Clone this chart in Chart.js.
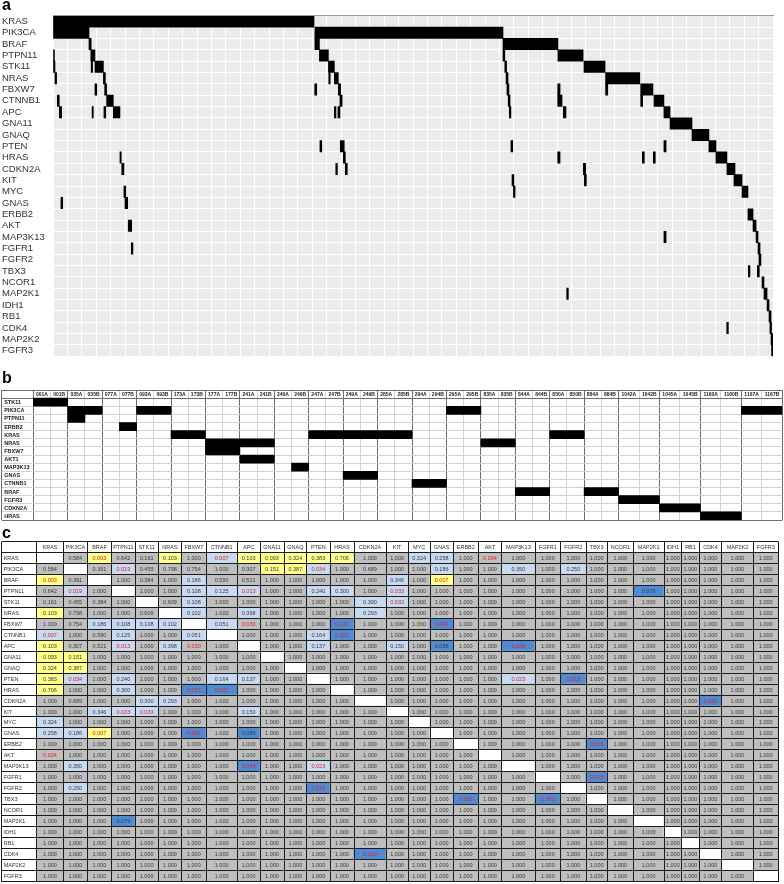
<!DOCTYPE html>
<html><head><meta charset="utf-8">
<script src="https://cdn.jsdelivr.net/npm/chart.js@4.4.1/dist/chart.umd.min.js"></script>
<style>
html,body{margin:0;padding:0;background:#fff;}
#wrap{position:relative;width:784px;height:884px;overflow:hidden;background:#fff;}
canvas{position:absolute;left:0;}
.pl{position:absolute;font:bold 16px "Liberation Sans",Arial,sans-serif;line-height:16px;color:#000;z-index:5;}
</style></head><body>
<div id="wrap">
<canvas id="ca" width="784" height="362" style="top:0px"></canvas>
<canvas id="cb" width="784" height="140" style="top:384px"></canvas>
<canvas id="cc" width="784" height="349" style="top:535px"></canvas>
<div class="pl" style="left:2px;top:-3px">a</div>
<div class="pl" style="left:2px;top:370px">b</div>
<div class="pl" style="left:2px;top:525px">c</div>
</div>
<script>
// ---------------- DATA: panel a (oncoprint) ----------------
const genesA = ['KRAS','PIK3CA','BRAF','PTPN11','STK11','NRAS','FBXW7','CTNNB1','APC','GNA11','GNAQ','PTEN','HRAS','CDKN2A','KIT','MYC','GNAS','ERBB2','AKT','MAP3K13','FGFR1','FGFR2','TBX3','NCOR1','MAP2K1','IDH1','RB1','CDK4','MAP2K2','FGFR3'];
const sampleCountA = 400;
const gridStepA = 8;
// [gene, first sample, end sample]
const mutationsA = [
['KRAS',0,145],
['PIK3CA',0,20],['PIK3CA',145.5,250],
['BRAF',20,21.2],['BRAF',145.5,148],['BRAF',250,280.5],
['PTPN11',0,0.8],['PTPN11',21,23.3],['PTPN11',148,153],['PTPN11',250,251],['PTPN11',280.5,294.5],
['STK11',0.3,1.1],['STK11',21.2,22],['STK11',23.3,28],['STK11',153,156.3],['STK11',251,252],['STK11',295,306.7],
['NRAS',1.1,2],['NRAS',28,29.1],['NRAS',153.2,154],['NRAS',156.3,158.5],['NRAS',251.7,252.8],['NRAS',307,326],
['FBXW7',23.3,24.3],['FBXW7',28.7,29.8],['FBXW7',145.4,146.5],['FBXW7',158.5,159.8],['FBXW7',252.2,253.3],['FBXW7',280.4,281.7],['FBXW7',307,308.2],['FBXW7',326.5,333.3],
['CTNNB1',2.4,3.5],['CTNNB1',29.8,33.5],['CTNNB1',159.4,160.6],['CTNNB1',252.9,253.9],['CTNNB1',280.4,282.8],['CTNNB1',326.5,327.6],['CTNNB1',333.9,339.4],
['APC',3.5,4.8],['APC',21.7,22.4],['APC',28.3,29.3],['APC',33.5,37.2],['APC',156.3,157.2],['APC',158.3,159.4],['APC',253.5,254.4],['APC',283.5,285],['APC',339.4,342.8],
['GNA11',342.8,355],
['GNAQ',355,364.4],
['PTEN',148.3,149.3],['PTEN',159.6,161.8],['PTEN',254.4,255.4],['PTEN',339.4,340.6],['PTEN',364.4,368.3],
['HRAS',37.2,37.9],['HRAS',161.3,162.4],['HRAS',280.4,281.7],['HRAS',327.4,328.5],['HRAS',333.5,334.6],['HRAS',368.3,374.4],
['CDKN2A',38.2,39.4],['CDKN2A',157.1,158],['CDKN2A',162.4,163.5],['CDKN2A',294.6,295.9],['CDKN2A',374.4,378.9],
['KIT',255,256],['KIT',295.2,296.3],['KIT',378.3,382.8],
['MYC',39.4,40.4],['MYC',255.8,256.7],['MYC',382.8,386.1],
['GNAS',4.4,5.4],['GNAS',40,41.5],
['ERBB2',386.1,388.9],
['AKT',41.8,43.7],['AKT',388.9,390.6],
['MAP3K13',339.4,340.6],['MAP3K13',390.6,391.7],
['FGFR1',43.5,44.4],['FGFR1',391.7,392.8],
['FGFR2',392.2,393.3],
['TBX3',386.3,387.2],['TBX3',391.3,392.4],
['NCOR1',393.9,395],
['MAP2K1',285.4,286.3],['MAP2K1',395,396.7],
['IDH1',396.7,397.8],
['RB1',397.8,398.9],
['CDK4',374.3,375.2],['CDK4',398.3,399.2],
['MAP2K2',398.9,400],
['FGFR3',399.2,400]
];

// ---------------- DATA: panel b ----------------
const genesB = ['STK11','PIK3CA','PTPN11','ERBB2','KRAS','NRAS','FBXW7','AKT1','MAP3K13','GNAS','CTNNB1','BRAF','FGFR3','CDKN2A','HRAS'];
const patientsB = ['001','035','077','093','173','177','241','246','247','249','285','294','295','835','844','850','884','1042','1045','1160','1167'];
const samplesB = patientsB.flatMap(p => [p + 'A', p + 'B']);
// [gene, first sample, last sample]
const mutationsB = [
['STK11','001A','001B'],
['PIK3CA','035A','035B'],['PIK3CA','093A','093B'],['PIK3CA','295A','295B'],['PIK3CA','1167A','1167B'],
['PTPN11','035A','035A'],
['ERBB2','077B','077B'],
['KRAS','173A','173B'],['KRAS','247A','285B'],['KRAS','850A','850B'],
['NRAS','177A','241B'],['NRAS','835A','835B'],
['FBXW7','177A','177B'],
['AKT1','241A','241B'],
['MAP3K13','246B','246B'],
['GNAS','249A','249B'],
['CTNNB1','294A','294B'],
['BRAF','844A','844B'],['BRAF','884A','884B'],
['FGFR3','1042A','1042B'],
['CDKN2A','1045A','1045B'],
['HRAS','1160A','1160B']
];

// ---------------- DATA: panel c (pairwise p-values) ----------------
const genesC = ['KRAS','PIK3CA','BRAF','PTPN11','STK11','NRAS','FBXW7','CTNNB1','APC','GNA11','GNAQ','PTEN','HRAS','CDKN2A','KIT','MYC','GNAS','ERBB2','AKT','MAP3K13','FGFR1','FGFR2','TBX3','NCOR1','MAP2K1','IDH1','RB1','CDK4','MAP2K2','FGFR3'];
const defaultP = 1.000;
// [gene, gene, p, highlight: G grey, Y yellow, L light blue, D blue]
const pairsC = [
['KRAS','PIK3CA',0.584,'G'],['KRAS','BRAF',0.003,'Y'],['KRAS','PTPN11',0.642,'G'],['KRAS','STK11',0.161,'G'],['KRAS','NRAS',0.103,'Y'],
['KRAS','CTNNB1',0.007,'L'],['KRAS','APC',0.103,'Y'],['KRAS','GNA11',0.093,'Y'],['KRAS','GNAQ',0.324,'Y'],['KRAS','PTEN',0.383,'Y'],
['KRAS','HRAS',0.706,'Y'],['KRAS','MYC',0.324,'L'],['KRAS','GNAS',0.258,'L'],['KRAS','AKT',0.034,'G'],
['PIK3CA','BRAF',0.391,'G'],['PIK3CA','PTPN11',0.019,'L'],['PIK3CA','STK11',0.455,'G'],['PIK3CA','NRAS',0.798,'G'],['PIK3CA','FBXW7',0.754,'G'],
['PIK3CA','APC',0.307,'G'],['PIK3CA','GNA11',0.151,'Y'],['PIK3CA','GNAQ',0.387,'Y'],['PIK3CA','PTEN',0.034,'L'],['PIK3CA','CDKN2A',0.689,'G'],
['PIK3CA','GNAS',0.186,'L'],['PIK3CA','MAP3K13',0.350,'L'],['PIK3CA','FGFR2',0.250,'L'],
['BRAF','STK11',0.384,'G'],['BRAF','FBXW7',0.186,'L'],['BRAF','CTNNB1',0.590,'G'],['BRAF','APC',0.521,'G'],['BRAF','KIT',0.346,'L'],['BRAF','GNAS',0.007,'Y'],
['PTPN11','FBXW7',0.108,'L'],['PTPN11','CTNNB1',0.125,'L'],['PTPN11','APC',0.013,'L'],['PTPN11','PTEN',0.240,'L'],['PTPN11','HRAS',0.300,'L'],
['PTPN11','KIT',0.033,'L'],['PTPN11','MAP2K1',0.079,'D'],
['STK11','NRAS',0.609,'G'],['STK11','FBXW7',0.108,'L'],['STK11','CDKN2A',0.300,'L'],['STK11','KIT',0.033,'L'],
['NRAS','FBXW7',0.102,'L'],['NRAS','APC',0.398,'L'],['NRAS','CDKN2A',0.293,'L'],
['FBXW7','CTNNB1',0.051,'L'],['FBXW7','APC',0.030,'G'],['FBXW7','HRAS',0.017,'D'],['FBXW7','GNAS',0.004,'D'],
['CTNNB1','PTEN',0.164,'L'],['CTNNB1','HRAS',0.021,'D'],
['APC','PTEN',0.137,'L'],['APC','KIT',0.150,'L'],['APC','GNAS',0.085,'D'],['APC','MAP3K13',0.043,'D'],
['PTEN','MAP3K13',0.023,'L'],['PTEN','FGFR2',0.015,'D'],
['CDKN2A','CDK4',0.010,'D'],
['ERBB2','TBX3',0.006,'D'],
['FGFR1','TBX3',0.003,'D']
];

// ---------------- LAYOUT (sizes, not data) ----------------
const layoutB = { labelW: 31.6, narrowW: 17.2, wideW: 20.45, firstWide: 34 };
const colWidthsC = [35, 26.6,24,24.4,23.3,23.3,23.4,24.3,31.3,22.7,24,22.7,23.3,24,32,22.3,21.7,23.3,25,23.4,33.3,25.7,25.3,21.3,26,30.7,17.7,17.6,22.4,31.6,25];

const FONT = '"Liberation Sans", Arial, sans-serif';
const NARROW = '"Liberation Sans Narrow", "Liberation Sans", Arial, sans-serif';
Chart.defaults.font.family = FONT;
Chart.defaults.animation = false;
Chart.defaults.plugins.legend.display = false;
Chart.defaults.plugins.tooltip.enabled = false;

function cumulative(ws) { const e = [0]; ws.forEach(w => e.push(+(e[e.length - 1] + w).toFixed(3))); return e; }

const areaFill = {
  id: 'areaFill',
  beforeDraw(chart, args, opts) {
    if (!opts || !opts.color) return;
    const { ctx, chartArea: a } = chart;
    ctx.save(); ctx.fillStyle = opts.color; ctx.fillRect(a.left, a.top, a.width, a.height); ctx.restore();
  }
};
const cellText = {
  id: 'cellText',
  afterDraw(chart) {
    const ctx = chart.ctx;
    chart.data.datasets.forEach((ds, di) => {
      if (!ds.cellText) return;
      const meta = chart.getDatasetMeta(di);
      meta.data.forEach((el, i) => {
        const t = ds.cellText[i];
        if (!t) return;
        const l = Math.min(el.x, el.base), r = Math.max(el.x, el.base);
        ctx.save();
        ctx.font = ds.cellFont;
        ctx.fillStyle = Array.isArray(ds.cellColor) ? ds.cellColor[i] : ds.cellColor;
        ctx.textBaseline = 'middle';
        if (ds.cellAlign === 'left') { ctx.textAlign = 'left'; ctx.fillText(t, l + (ds.cellPad || 1.5), el.y + 0.5); }
        else { ctx.textAlign = 'center'; ctx.fillText(t, (l + r) / 2, el.y + 0.5); }
        ctx.restore();
      });
    });
  }
};
const barDefaults = { grouped: false, categoryPercentage: 1, barPercentage: 1, borderWidth: 0 };

// ---------------- Chart a ----------------
new Chart(document.getElementById('ca'), {
  type: 'bar',
  data: {
    labels: genesA,
    datasets: [{
      data: mutationsA.map(([g, s, e]) => ({ y: g, x: [s, e] })),
      backgroundColor: '#000'
    }]
  },
  options: {
    responsive: false, indexAxis: 'y',
    datasets: { bar: barDefaults },
    layout: { padding: { left: 2, top: 15.7, right: 11, bottom: 2 } },
    scales: {
      x: { type: 'linear', position: 'top', min: 0, max: sampleCountA,
        ticks: { display: false, stepSize: gridStepA },
        grid: { color: '#ffffff', lineWidth: 1, drawTicks: false },
        border: { display: true, color: '#9a9a9a', width: 1, z: 1 },
        afterFit(s) { s.height = 0; } },
      y: { type: 'category',
        ticks: { crossAlign: 'far', color: '#333', font: { size: 9.5 }, padding: 0, autoSkip: false },
        grid: { color: '#ffffff', lineWidth: 1, drawTicks: false },
        border: { display: false },
        afterFit(s) { s.width = 51; } }
    },
    plugins: { areaFill: { color: '#ebebeb' } }
  },
  plugins: [areaFill]
});

// ---------------- Chart b ----------------
(function () {
  const widths = [layoutB.labelW, ...samplesB.map((s, i) => i < layoutB.firstWide ? layoutB.narrowW : layoutB.wideW)];
  const edges = cumulative(widths);
  const col = s => samplesB.indexOf(s);
  const dark = '#6e6e6e', light = '#d2d2d2';
  new Chart(document.getElementById('cb'), {
    type: 'bar',
    data: {
      labels: ['hdr', ...genesB],
      datasets: [
        { data: mutationsB.map(([g, a, b]) => ({ y: g, x: [edges[col(a) + 1], edges[col(b) + 2]] })), backgroundColor: '#000' },
        { data: samplesB.map((s, i) => ({ y: 'hdr', x: [edges[i + 1], edges[i + 2]] })), backgroundColor: 'rgba(0,0,0,0)',
          cellText: samplesB, cellFont: 'bold 5px ' + FONT, cellColor: '#222' },
        { data: genesB.map(g => ({ y: g, x: [0, edges[1]] })), backgroundColor: 'rgba(0,0,0,0)',
          cellText: genesB, cellFont: 'bold 5.5px ' + FONT, cellColor: '#222', cellAlign: 'left', cellPad: 2 }
      ]
    },
    options: {
      responsive: false, indexAxis: 'y',
      datasets: { bar: barDefaults },
      layout: { padding: { left: 1.7, top: 6, right: 1.7, bottom: 4 } },
      scales: {
        x: { type: 'linear', min: 0, max: edges[edges.length - 1], bounds: 'data',
          afterBuildTicks(s) { s.ticks = edges.map(v => ({ value: v })); },
          ticks: { display: false },
          grid: { drawTicks: false, lineWidth: 1,
            color: c => { const t = c.index; if (t === undefined || t <= 1) return dark; return ((t - 2) % 2 === 1) ? dark : light; } },
          border: { display: false },
          afterFit(s) { s.height = 0; } },
        y: { type: 'category', ticks: { display: false },
          grid: { drawTicks: false, lineWidth: 1, color: c => (c.index === undefined || c.index <= 1) ? dark : light },
          border: { display: false },
          afterFit(s) { s.width = 0; } }
      }
    },
    plugins: [cellText]
  });
})();

// ---------------- Chart c ----------------
(function () {
  const edges = cumulative(colWidthsC);
  const idx = Object.fromEntries(genesC.map((g, i) => [g, i]));
  const pMat = genesC.map((g, i) => genesC.map((h, j) => i === j ? null : defaultP));
  const tagMat = genesC.map(() => genesC.map(() => 'G'));
  pairsC.forEach(([a, b, p, t]) => { const i = idx[a], j = idx[b]; pMat[i][j] = pMat[j][i] = p; tagMat[i][j] = tagMat[j][i] = t; });
  const fills = { G: '#bfbfbf', Y: '#ffff8a', L: '#c8daf1', D: '#4f8bd3' };
  const cells = [], bg = [], txt = [], tcol = [];
  genesC.forEach((g, i) => genesC.forEach((h, j) => {
    cells.push({ y: g, x: [edges[j + 1], edges[j + 2]] });
    const p = pMat[i][j];
    bg.push(p === null ? '#ffffff' : fills[tagMat[i][j]]);
    txt.push(p === null ? '' : p.toFixed(3));
    tcol.push(p !== null && p < 0.05 ? '#e0201c' : '#3a3a3a');
  }));
  new Chart(document.getElementById('cc'), {
    type: 'bar',
    data: {
      labels: ['hdr', ...genesC],
      datasets: [
        { data: cells, backgroundColor: bg, cellText: txt, cellColor: tcol, cellFont: '5.5px ' + NARROW },
        { data: [{ y: 'hdr', x: [0, edges[1]] }, ...genesC.map((g, j) => ({ y: 'hdr', x: [edges[j + 1], edges[j + 2]] }))],
          backgroundColor: '#ffffff', cellText: ['', ...genesC], cellFont: '5.5px ' + NARROW, cellColor: '#333' },
        { data: genesC.map(g => ({ y: g, x: [0, edges[1]] })), backgroundColor: '#ffffff',
          cellText: genesC, cellFont: '5.5px ' + NARROW, cellColor: '#333', cellAlign: 'left', cellPad: 1.5 }
      ]
    },
    options: {
      responsive: false, indexAxis: 'y',
      datasets: { bar: barDefaults },
      layout: { padding: { left: 1.7, top: 6.5, right: 5.7, bottom: 2.5 } },
      scales: {
        x: { type: 'linear', min: 0, max: edges[edges.length - 1], bounds: 'data',
          afterBuildTicks(s) { s.ticks = edges.map(v => ({ value: v })); },
          ticks: { display: false },
          grid: { drawTicks: false, lineWidth: 1, color: '#1c1c1c', z: 1 },
          border: { display: false },
          afterFit(s) { s.height = 0; } },
        y: { type: 'category', ticks: { display: false },
          grid: { drawTicks: false, lineWidth: 1, color: '#1c1c1c', z: 1 },
          border: { display: false },
          afterFit(s) { s.width = 0; } }
      }
    },
    plugins: [cellText]
  });
})();
</script>
</body></html>
